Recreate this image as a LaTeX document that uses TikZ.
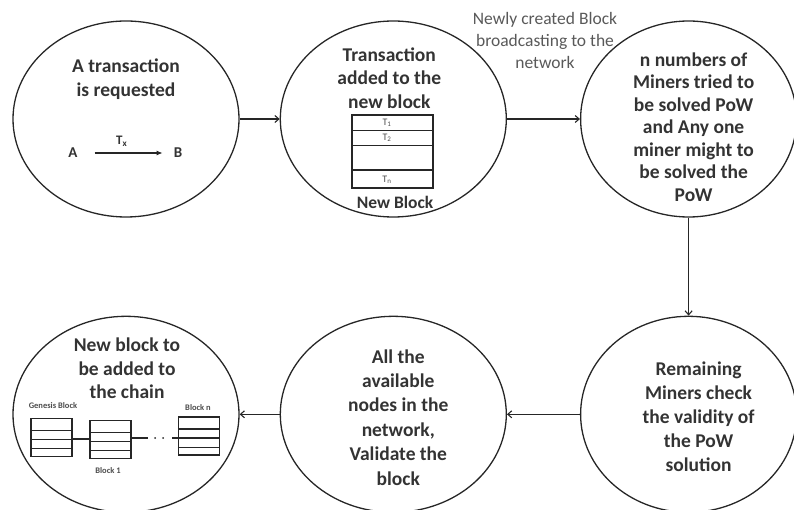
\documentclass[tikz,border=0pt]{standalone}
\usepackage{fontspec}
\setmainfont{Carlito}
\usetikzlibrary{arrows.meta, positioning, shapes.geometric, calc}
\tikzset{
  bubble/.style  = {draw=black!85, line width=1.3pt, ellipse, inner sep=0pt,
                    minimum width=226pt, minimum height=196pt},
  title/.style   = {align=center, text=black!80, inner sep=0pt,
                    font=\fontsize{19.5}{23.5}\selectfont\bfseries},
  note/.style    = {align=center, text=black!65, inner sep=0pt,
                    font=\fontsize{17.5}{22}\selectfont},
  tiny/.style    = {text=black!70, inner sep=0pt,
                    font=\fontsize{8.5}{9}\selectfont\bfseries},
  cell/.style    = {draw=black!85, line width=1.1pt, rectangle, inner sep=0pt},
  chainblk/.style= {cell, minimum width=41pt, minimum height=38pt},
  arr/.style     = {-{Straight Barb[length=4pt, width=7pt]}, line width=1.1pt,
                    draw=black!85}
}

\begin{document}
\begin{tikzpicture}[x=1pt, y=-1pt]
  \useasboundingbox (0,0) rectangle (794,510);

  % the six stages
  \node[bubble] (req) at (126,119) {};
  \node[bubble, right=40pt of req] (add) {};
  \node[bubble, minimum width=216pt, right=73pt of add] (pow) {};
  \node[bubble, minimum width=216pt, below=98pt of pow] (chk) {};
  \node[bubble, left=73pt of chk] (val) {};
  \node[bubble, left=40pt of val] (chain) {};

  % stage texts
  \node[title] (reqtxt) at ([yshift=40pt]req.center)
    {A transaction\\is requested};
  \node[title] (addtxt) at ([xshift=-4pt, yshift=41pt]add.center)
    {Transaction\\added to the\\new block};
  \node[title, font=\fontsize{19.5}{22.5}\selectfont\bfseries] (powtxt)
    at ([xshift=5pt, yshift=-8pt]pow.center)
    {n numbers of\\Miners tried to\\be solved PoW\\and Any one\\miner might to\\be solved the\\PoW};
  \node[title, font=\fontsize{19.5}{24}\selectfont\bfseries] (chktxt)
    at ([xshift=10pt, yshift=-2pt]chk.center)
    {Remaining\\Miners check\\the validity of\\the PoW\\solution};
  \node[title, font=\fontsize{19.5}{24.4}\selectfont\bfseries] (valtxt)
    at ([xshift=5pt, yshift=-3pt]val.center)
    {All the\\available\\nodes in the\\network,\\Validate the\\block};
  \node[title] (chaintxt) at ([xshift=1pt, yshift=46pt]chain.center)
    {New block to\\be added to\\the chain};

  % A sends T_x to B
  \node[title, font=\fontsize{15}{17}\selectfont\bfseries] (ua) at (73,153) {A};
  \node[title, font=\fontsize{15}{17}\selectfont\bfseries] (ub) at (178,153) {B};
  \draw[-{Latex[length=6pt, width=5pt]}, line width=1.1pt, draw=black!85,
        shorten <=17pt, shorten >=11pt] (ua) -- (ub)
    node[midway, above=6pt, xshift=-4pt, title,
         font=\fontsize{13}{14}\selectfont\bfseries] (tx) {T\textsubscript{x}};

  % new block with its transactions
  \node[cell, minimum width=81pt, minimum height=73pt] (txblk) at (392.5,151.5) {};
  \foreach \f in {0.22, 0.42, 0.75}
    \draw[line width=1.1pt, black!85] ($(txblk.north west)!\f!(txblk.south west)$)
      -- ($(txblk.north east)!\f!(txblk.south east)$);
  \node[tiny, font=\fontsize{10}{11}\selectfont] (t1) at (387,123) {T\textsubscript{1}};
  \node[tiny, font=\fontsize{10}{11}\selectfont] (t2) at (387,138) {T\textsubscript{2}};
  \node[tiny, font=\fontsize{10}{11}\selectfont] (tn) at (387,180) {T\textsubscript{n}};
  \node[title, font=\fontsize{17.5}{20}\selectfont\bfseries] (newblk) at (395,202) {New Block};

  % chain of blocks
  \node[chainblk] (gen) at (51.5,437.5) {};
  \node[chainblk] (b1)  at (110.5,439.5) {};
  \node[chainblk] (bn)  at (199,436) {};
  \foreach \b in {gen, b1, bn}
    \foreach \f in {0.32, 0.55, 0.79}
      \draw[line width=1.1pt, black!85] ($(\b.north west)!\f!(\b.south west)$)
        -- ($(\b.north east)!\f!(\b.south east)$);
  \node[tiny] (genlbl) at (53,406) {Genesis Block};
  \node[tiny] (b1lbl)  at (108,471) {Block 1};
  \node[tiny] (bnlbl)  at (198,408) {Block n};
  \coordinate (gapl) at (148,438);
  \coordinate (gapr) at (172,438);
  \draw[line width=1.1pt, black!85] (gen.east |- 0,439) -- (b1.west |- 0,439);
  \draw[line width=1.1pt, black!85] (b1.east |- gapl) -- (gapl);
  \draw[line width=1.1pt, black!85] (gapr) -- (bn.west |- gapr);
  \fill[black!85] (155,438) circle (1pt) (163,438) circle (1pt);

  % flow between the stages
  \draw[arr] (req) -- (add);
  \draw[arr] (add) -- (pow);
  \draw[arr] (pow) -- (chk);
  \draw[arr] (chk) -- (val);
  \draw[arr] (val) -- (chain);

  \node[note] (bcast) at (545,40)
    {Newly created Block\\broadcasting to the\\network};
\end{tikzpicture}
\end{document}
